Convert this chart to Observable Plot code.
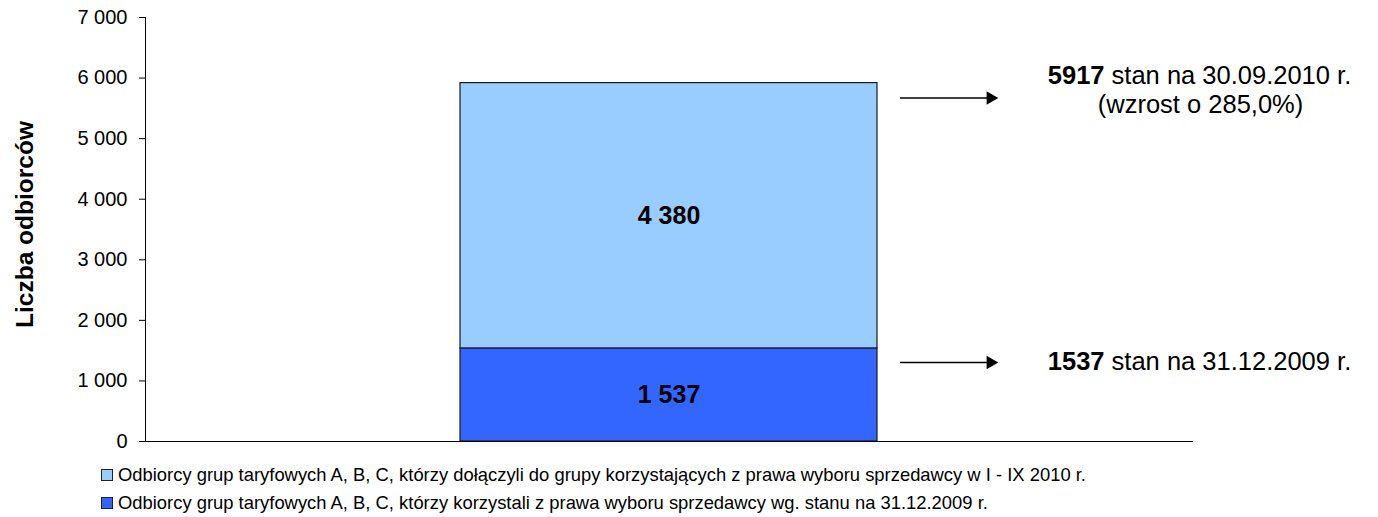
<!DOCTYPE html>
<html>
<head>
<meta charset="utf-8">
<script src="https://cdn.jsdelivr.net/npm/d3@7"></script>
<script src="https://cdn.jsdelivr.net/npm/@observablehq/plot@0.6"></script>
<style>
  html, body { margin: 0; padding: 0; background: #fff; }
  body { width: 1378px; height: 517px; overflow: hidden; font-family: "Liberation Sans", Arial, sans-serif; }
  #legend { margin-left: 101px; margin-top: 3px; }
  .row { display: flex; align-items: center; height: 28px; font-size: 18.4px; color: #000; white-space: nowrap; }
  .sw { width: 10px; height: 10px; border: 1px solid #222; margin-right: 5px; flex: none; }
</style>
</head>
<body>
<div id="chart"></div>
<div id="legend"></div>
<script>
// ---- data ----
const categories = ["2010"];
const seriesNames = [
  "Odbiorcy grup taryfowych A, B, C, którzy korzystali z prawa wyboru sprzedawcy wg. stanu na 31.12.2009 r.",
  "Odbiorcy grup taryfowych A, B, C, którzy dołączyli do grupy korzystających z prawa wyboru sprzedawcy w I - IX 2010 r."
];
const seriesValues = [1537, 4380];
const yTicks = [0, 1000, 2000, 3000, 4000, 5000, 6000, 7000];
const annotBold = ["1537", "5917"];
const annotMain = ["stan na 31.12.2009 r.", "stan na 30.09.2010 r."];
const annotSub = ["", "(wzrost o 285,0%)"];
const yLabel = "Liczba odbiorców";

// ---- styles ----
const palette = ["#3366FF", "#99CCFF"];
const fmt = d => d3.format(",")(d).replace(/,/g, " ");

const rows = seriesNames.map((s, i) => ({cat: categories[0], series: s, value: seriesValues[i]}));
const levels = Array.from(d3.cumsum(seriesValues));
const annots = levels.map((lv, i) => ({level: lv, bold: annotBold[i], main: annotMain[i], sub: annotSub[i]}));
const mainTexts = annots.map(a => a.bold + " " + a.main);

// per-annotation offsets (pixels)
const textDy = [13, -7];
const subDy = [0, 22];
const arrowDy = [14, 15];

const annotMarks = annots.flatMap((a, i) => {
  const m = [
    Plot.ruleY([a], {y: "level", dy: arrowDy[i], insetLeft: 755, insetRight: 206, stroke: "#000", strokeWidth: 1.5}),
    Plot.dot([a], {y: "level", dy: arrowDy[i], frameAnchor: "right", dx: -203, symbol: "triangle", r: 5, rotate: 90, fill: "#000", stroke: "none"}),
    Plot.text([a], {y: "level", text: d => d.bold + " " + d.main, frameAnchor: "right", dx: 6, dy: textDy[i], textAnchor: "middle", fontSize: 25.5, fill: "#000"})
  ];
  if (a.sub) m.push(Plot.text([a], {y: "level", text: "sub", frameAnchor: "right", dx: 7, dy: subDy[i], textAnchor: "middle", fontSize: 25.5, fill: "#000"}));
  return m;
});

const chart = Plot.plot({
  width: 1378,
  height: 458,
  marginLeft: 145,
  marginRight: 185,
  marginTop: 17,
  marginBottom: 17,
  style: {fontFamily: "'Liberation Sans', Arial, sans-serif", background: "#fff", color: "#000"},
  x: {type: "band", domain: categories, padding: 0.43, axis: null},
  y: {domain: [0, 7000], axis: null},
  color: {domain: seriesNames, range: palette},
  marks: [
    Plot.barY(rows, {x: "cat", y: "value", fill: "series", stroke: "#1a1a1a", strokeWidth: 1.2}),
    Plot.text(rows, Plot.stackY({x: "cat", y: "value", text: d => fmt(d.value), fontWeight: "bold", fontSize: 25, fill: "#000"})),
    Plot.axisY({ticks: yTicks, tickFormat: fmt, tickSize: 6, tickPadding: 12, fontSize: 20, label: null, stroke: "#000"}),
    Plot.frame({anchor: "left", stroke: "#000"}),
    Plot.ruleY([0], {stroke: "#000"}),
    Plot.text([yLabel], {frameAnchor: "left", text: d => d, rotate: -90, textAnchor: "middle", dx: -120, dy: -5, fontWeight: "bold", fontSize: 24.5, fill: "#000"}),
    ...annotMarks
  ]
});
document.getElementById("chart").appendChild(chart);

// bold first word of annotation main lines
d3.select(chart).selectAll("text").filter(function() {
  return mainTexts.includes(this.textContent);
}).each(function() {
  const t = this.textContent;
  const idx = t.indexOf(" ");
  const sel = d3.select(this);
  sel.text(null);
  sel.append("tspan").attr("font-weight", "bold").text(t.slice(0, idx));
  sel.append("tspan").text(t.slice(idx));
});

// legend (top series first, as in the reference)
const legend = d3.select("#legend");
[1, 0].forEach(i => {
  const r = legend.append("div").attr("class", "row");
  r.append("div").attr("class", "sw").style("background", palette[i]);
  r.append("span").text(seriesNames[i]);
});
</script>
</body>
</html>
